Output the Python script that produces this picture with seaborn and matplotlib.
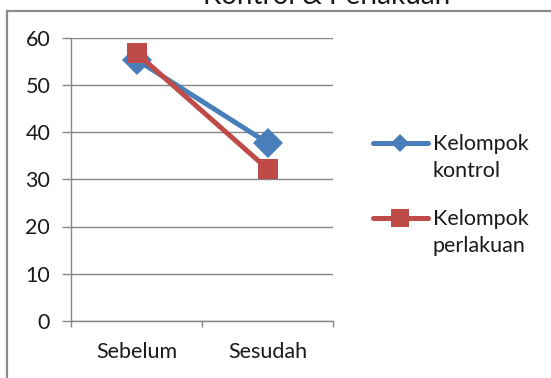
import matplotlib
matplotlib.use("Agg")
import matplotlib.pyplot as plt
import seaborn as sns
import pandas as pd
from matplotlib.patches import Rectangle

# ---- data ----
categories = ["Sebelum", "Sesudah"]
kontrol = [55.3, 37.7]
perlakuan = [56.7, 32.2]
series_names = ["Kelompok\nkontrol", "Kelompok\nperlakuan"]
title_text = "Kontrol & Perlakuan"
y_ticks = [0, 10, 20, 30, 40, 50, 60]

df = pd.DataFrame({
    "Waktu": categories + categories,
    "Nilai": kontrol + perlakuan,
    "Kelompok": [series_names[0]] * len(categories) + [series_names[1]] * len(categories),
})

sns.set_theme(style="white")
plt.rcParams['font.family'] = ['Lato', 'DejaVu Sans']

W, H = 551, 378
FS = 15.5
fig = plt.figure(figsize=(W / 100, H / 100), dpi=100)
ax = fig.add_axes([71 / W, 1 - 321 / H, (333 - 71) / W, (321 - 37.5) / H])

blue = "#4a7ebb"
red = "#be4b48"
gray = "#868686"
txt = "#1a1a1a"

sns.lineplot(data=df, x="Waktu", y="Nilai", hue="Kelompok", style="Kelompok",
             palette=[blue, red], markers={series_names[0]: "D", series_names[1]: "s"},
             dashes=False, lw=3.6, markersize=15, markeredgewidth=0, ax=ax)

ax.set_xlim(-0.5, 1.5)
ax.set_ylim(0, 60)
ax.set_yticks(y_ticks)
ax.set_xticks([-0.5, 0.5, 1.5])
ax.set_xticklabels(["", "", ""])
ax.set_xticks([0, 1], categories, minor=True)
ax.set_xlabel("")
ax.set_ylabel("")

ax.tick_params(axis="x", which="major", direction="out", length=4.5, width=1, color=gray, bottom=True)
ax.tick_params(axis="x", which="minor", length=0, pad=15, labelsize=FS, labelcolor=txt, bottom=True)
ax.tick_params(axis="y", which="major", direction="out", length=6.5, width=1, color=gray, left=True,
               pad=8.5, labelsize=FS, labelcolor=txt)

ax.yaxis.grid(True, color=gray, lw=1)
ax.set_axisbelow(True)
for s in ["top", "right"]:
    ax.spines[s].set_visible(False)
for s in ["left", "bottom"]:
    ax.spines[s].set_color(gray)
    ax.spines[s].set_linewidth(1)

leg = ax.legend(loc="upper left", bbox_to_anchor=(373 / W, 1 - 134 / H), bbox_transform=fig.transFigure,
                frameon=False, fontsize=FS, handlelength=2.55, handletextpad=0.23, labelspacing=1.3,
                handleheight=1.25, borderaxespad=0, borderpad=0)
for t in leg.get_texts():
    t.set_linespacing(1.45)
    t.set_color(txt)
hs = leg.legend_handles
hs[0].set_markersize(9)
hs[1].set_markersize(13)
for col in leg._legend_handle_box.get_children():
    for row in col.get_children():
        row.align = "top"

fig.add_artist(Rectangle((7 / W, -0.1), 1.2, 1 - 11 / H + 0.1, transform=fig.transFigure,
                         fill=False, ec="#8c8c8c", lw=1.6))
fig.text(327 / W, 1 - 3.5 / H, title_text, ha="center", va="baseline", fontsize=20, color=txt)

fig.savefig("out.png", dpi=100)
